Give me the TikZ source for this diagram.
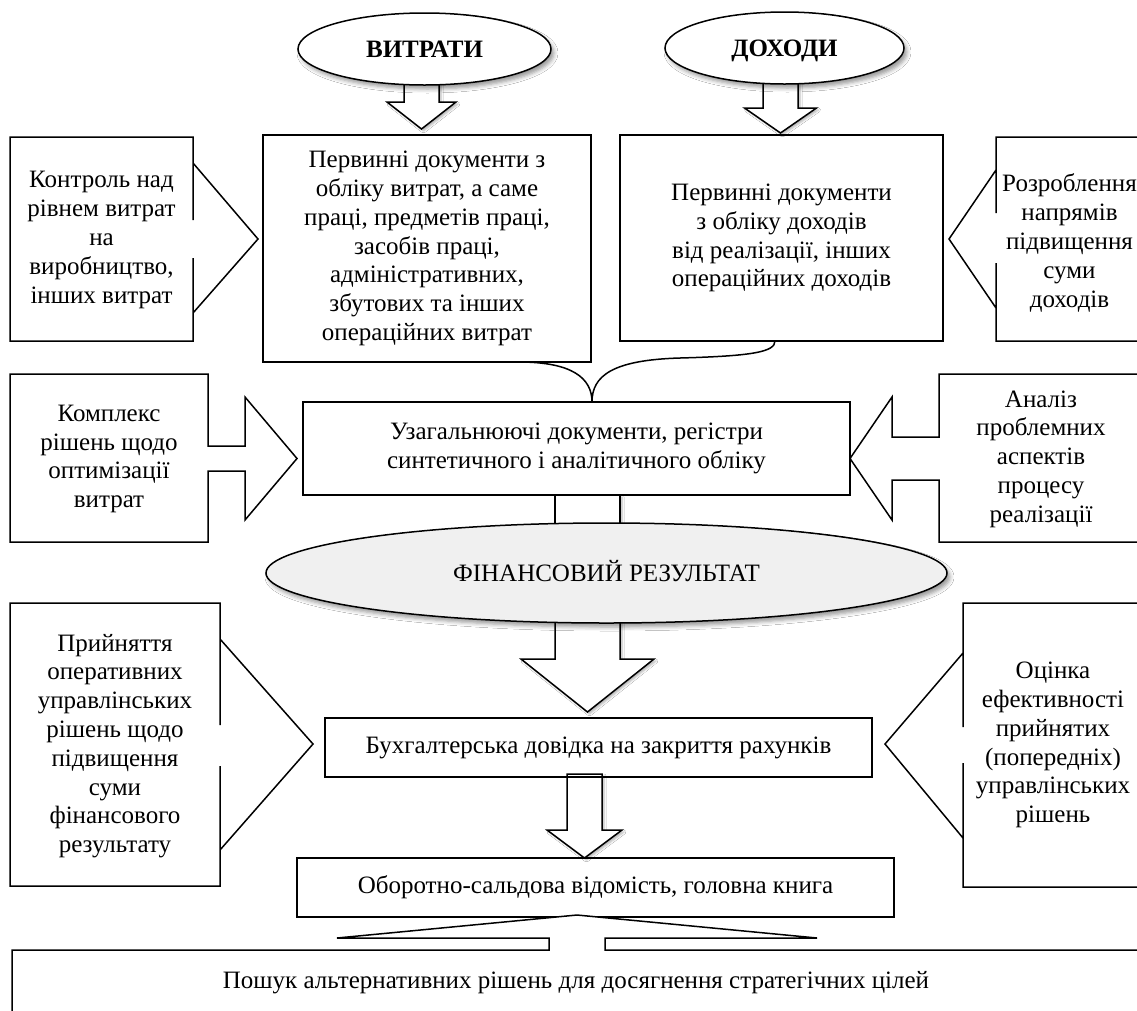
\documentclass[tikz,border=0pt]{standalone}
\usepackage{fontspec}
\setmainfont{Liberation Serif}
\usetikzlibrary{shapes.geometric,shadows.blur}

\begin{document}
\begin{tikzpicture}[x=1pt,y=-1pt,
    every node/.style={font=\fontsize{25}{28.8}\selectfont},
    box/.style={draw,line width=1.5pt,rectangle,inner sep=0pt,align=center},
    oval/.style={draw,line width=1.5pt,ellipse,inner sep=0pt,fill=white,text height=17pt,text depth=0pt,
      blur shadow={shadow xshift=3pt,shadow yshift=-4pt,shadow blur radius=4pt,shadow opacity=40}},
    note/.style={align=center,inner sep=0pt},
    callout/.style={draw,line width=1.5pt,fill=white},
    blockarrow/.style={draw,line width=1.5pt,fill=white,
      blur shadow={shadow xshift=2pt,shadow yshift=-2pt,shadow blur radius=2pt,shadow opacity=30}}]

    \useasboundingbox (0,0) rectangle (1137,1010);
    \fill[white] (0,0) rectangle (1137,1010);
    \clip (0,0) rectangle (1137,1010);

    % block arrows (drawn first, the ovals sit on top of them) %
    \foreach \cx/\ya/\yb/\yc/\sw/\hw in {421.5/70/102/129/17.5/34.5, 780.5/70/108/133/17.5/36,
        587.5/600/659/712/32.5/66.5, 584.5/774/830/858/17.5/37.5}
        \draw[blockarrow] (\cx-\sw,\ya) -- (\cx-\sw,\yb) -- (\cx-\hw,\yb) -- (\cx,\yc)
            -- (\cx+\hw,\yb) -- (\cx+\sw,\yb) -- (\cx+\sw,\ya) -- cycle;
    \draw[blockarrow] (555,495) rectangle (620,560);

    % main chain %
    \node[oval,minimum width=253pt,minimum height=72pt,font=\fontsize{25}{28.8}\selectfont\bfseries] (vytraty) at (424.5,49) {ВИТРАТИ};
    \node[oval,minimum width=239pt,minimum height=72pt,font=\fontsize{25}{28.8}\selectfont\bfseries] (dokhody) at (784.5,48) {ДОХОДИ};
    \node[box,minimum width=328pt,minimum height=227pt] (vytrdocs) at (427,248.5)
        {Первинні документи з\\обліку витрат, а саме\\праці, предметів праці,\\засобів праці,\\адміністративних,\\збутових та інших\\операційних витрат};
    \node[box,minimum width=323pt,minimum height=206pt] (dokhdocs) at (781.5,238)
        {Первинні документи\\з обліку доходів\\від реалізації, інших\\операційних доходів};
    \node[box,minimum width=547pt,minimum height=93pt] (uzag) at (576.5,448.5)
        {Узагальнюючі документи, регістри\\синтетичного і аналітичного обліку};
    \node[oval,fill=gray!12,minimum width=681pt,minimum height=100pt] (finrez) at (606.5,573) {ФІНАНСОВИЙ РЕЗУЛЬТАТ};
    \node[box,minimum width=547pt,minimum height=59pt] (bukh) at (598.5,747.5) {Бухгалтерська довідка на закриття рахунків};
    \node[box,minimum width=597pt,minimum height=59pt] (oborot) at (595.5,887.5) {Оборотно-сальдова відомість, головна книга};

    % brace from the primary documents %
    \draw[line width=1.5pt] (519,362) .. controls (572,362) and (592,378) .. (592,402)
        .. controls (592,376) and (612,360) .. (680,358) .. controls (752,356) and (775,352) .. (775,341);

    % callouts on the left %
    \draw[callout] (193,220) -- (193,137) -- (10,137) -- (10,341) -- (193,341) -- (193,258)
        -- (193,313) -- (258,239) -- (193,163) -- cycle;
    \node[note] (kontrol) at (101.5,240) {Контроль над\\рівнем витрат\\на\\виробництво,\\інших витрат};
    \draw[callout] (208,446) -- (208,374) -- (10,374) -- (10,542) -- (208,542) -- (208,471)
        -- (245,471) -- (245,520) -- (297,458.5) -- (245,397) -- (245,446) -- cycle;
    \node[note] (kompleks) at (109,459) {Комплекс\\рішень щодо\\оптимізації\\витрат};
    \draw[callout] (220,725) -- (220,603) -- (10,603) -- (10,886) -- (220,886) -- (220,766)
        -- (220,850) -- (313,744) -- (220,639) -- cycle;
    \node[note] (pryin) at (115,746) {Прийняття\\оперативних\\управлінських\\рішень щодо\\підвищення\\суми\\фінансового\\результату};

    % callouts on the right %
    \draw[callout] (996,213) -- (996,137) -- (1143,137) -- (1143,341) -- (996,341) -- (996,263)
        -- (996,308) -- (949,239) -- (996,170) -- cycle;
    \node[note] (rozrob) at (1069.5,243) {Розроблення\\напрямів\\підвищення\\суми\\доходів};
    \draw[callout] (939,437) -- (939,374) -- (1143,374) -- (1143,542) -- (939,542) -- (939,480)
        -- (892,480) -- (892,520) -- (850,458.5) -- (892,397) -- (892,437) -- cycle;
    \node[note] (analiz) at (1041,459) {Аналіз\\проблемних\\аспектів\\процесу\\реалізації};
    \draw[callout] (963,727) -- (963,603) -- (1143,603) -- (1143,887) -- (963,887) -- (963,763)
        -- (963,838) -- (885,744) -- (963,653) -- cycle;
    \node[note] (otsinka) at (1053,745) {Оцінка\\ефективності\\прийнятих\\(попередніх)\\управлінських\\рішень};

    % bottom callout %
    \draw[callout] (549,938) -- (549,950) -- (12,950) -- (12,1020) -- (1143,1020) -- (1143,950)
        -- (605,950) -- (605,938) -- (817,938) -- (577,915) -- (337,938) -- cycle;
    \node[note] (poshuk) at (576,983) {Пошук альтернативних рішень для досягнення стратегічних цілей};

\end{tikzpicture}
\end{document}
